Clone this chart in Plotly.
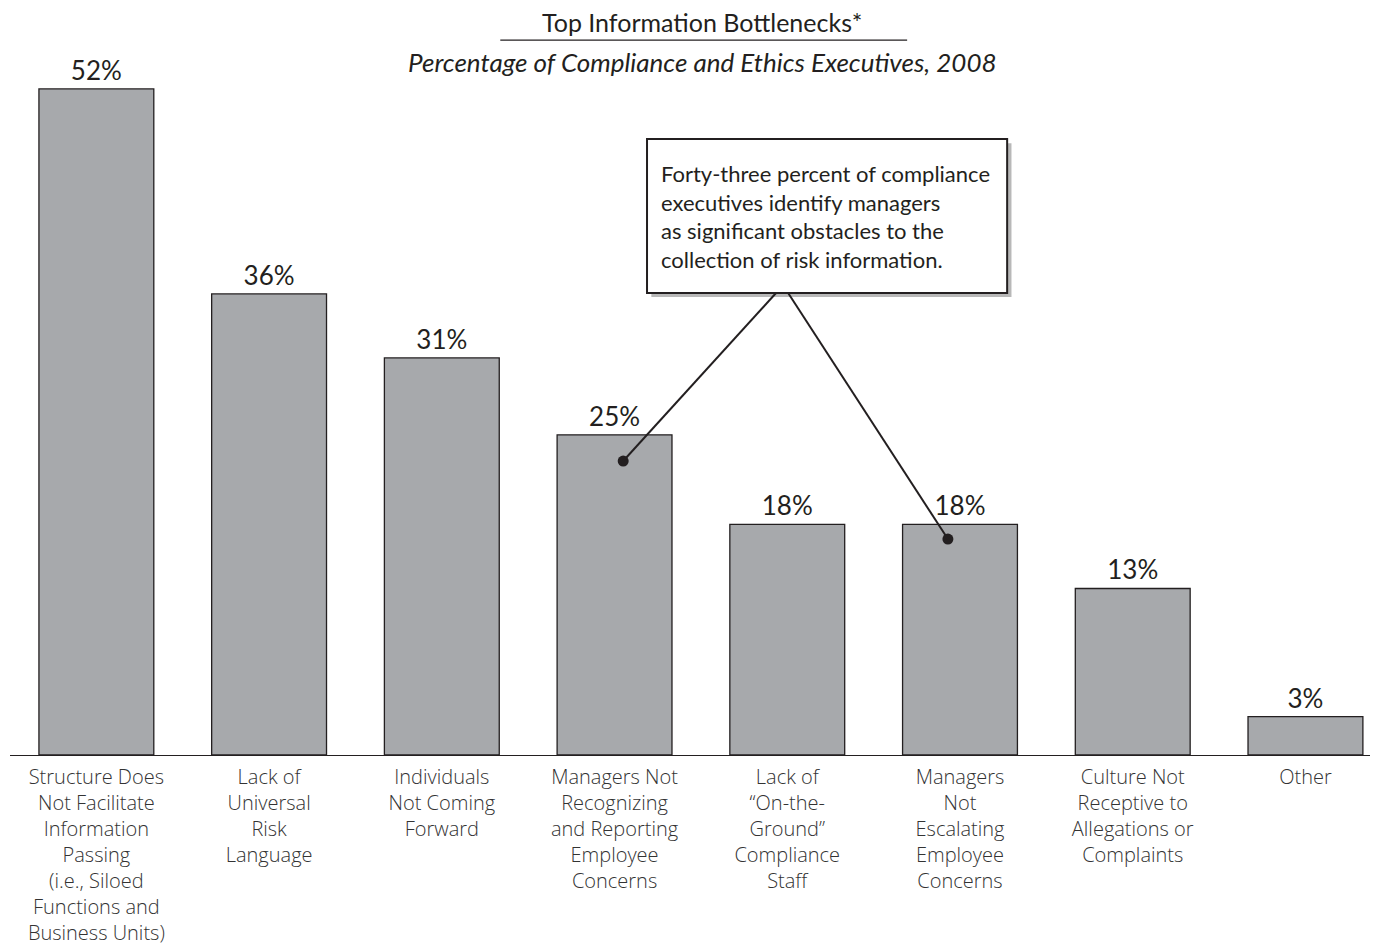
import plotly.graph_objects as go

categories = [
    "Structure Does<br>Not Facilitate<br>Information<br>Passing<br>(i.e., Siloed<br>Functions and<br>Business Units)",
    "Lack of<br>Universal<br>Risk<br>Language",
    "Individuals<br>Not Coming<br>Forward",
    "Managers Not<br>Recognizing<br>and Reporting<br>Employee<br>Concerns",
    "Lack of<br>\u201cOn-the-<br>Ground\u201d<br>Compliance<br>Staff",
    "Managers<br>Not<br>Escalating<br>Employee<br>Concerns",
    "Culture Not<br>Receptive to<br>Allegations or<br>Complaints",
    "Other",
]
values = [52, 36, 31, 25, 18, 18, 13, 3]
value_labels = [f"{v}%" for v in values]

title_text = "Top Information Bottlenecks*"
subtitle_text = "Percentage of Compliance and Ethics Executives, 2008"
callout_text = ("Forty-three percent of compliance<br>executives identify managers<br>"
                "as significant obstacles to the<br>collection of risk information.")

# callout geometry (data coordinates)
BOX = dict(x0=3.188, x1=5.273, y0=36.07, y1=48.09)
SHADOW_DX, SHADOW_DY = 0.025, 0.32
LEADERS = [((3.935, 36.07), (3.05, 22.95)), ((4.005, 36.07), (4.93, 16.86))]

INK = "#231f20"
BAR = "#a7a9ac"
FONT = "Lato"

x_idx = list(range(len(categories)))

fig = go.Figure()
fig.add_trace(go.Bar(
    x=x_idx, y=values, text=value_labels, textposition="outside",
    textfont=dict(family=FONT, size=26, color=INK),
    marker=dict(color=BAR, line=dict(color=INK, width=1.3)),
    width=0.665, cliponaxis=False, hoverinfo="skip",
))

shapes = []
# shadow
shapes.append(dict(type="rect", xref="x", yref="y",
                   x0=BOX["x0"] + SHADOW_DX, x1=BOX["x1"] + SHADOW_DX,
                   y0=BOX["y0"] - SHADOW_DY, y1=BOX["y1"] - SHADOW_DY,
                   fillcolor="#b8b8b8", line=dict(width=0), layer="above"))
for (a, b) in LEADERS:
    shapes.append(dict(type="line", xref="x", yref="y", x0=a[0], y0=a[1], x1=b[0], y1=b[1],
                       line=dict(color=INK, width=2), layer="above"))
shapes.append(dict(type="rect", xref="x", yref="y", **BOX,
                   fillcolor="white", line=dict(color=INK, width=2), layer="above"))
# title underline
shapes.append(dict(type="line", xref="paper", yref="paper", x0=0.3584, x1=0.6558,
                   y0=0.957, y1=0.957, line=dict(color=INK, width=1.2)))

fig.add_trace(go.Scatter(
    x=[b[0] for _, b in LEADERS], y=[b[1] for _, b in LEADERS], mode="markers",
    marker=dict(color=INK, size=11), hoverinfo="skip", cliponaxis=False,
))

annotations = [
    dict(text=title_text, xref="paper", yref="paper", x=0.506, y=0.981,
         xanchor="center", yanchor="middle", borderpad=0,
         showarrow=False, font=dict(family=FONT, size=25, color=INK)),
    dict(text=f"<i>{subtitle_text}</i>", xref="paper", yref="paper", x=0.506, y=0.928,
         xanchor="center", yanchor="middle",
         showarrow=False, font=dict(family=FONT, size=26, color=INK)),
    dict(text=callout_text, xref="x", yref="y", x=BOX["x0"] + 0.07, y=(BOX["y0"] + BOX["y1"]) / 2,
         xanchor="left", yanchor="middle", align="left", showarrow=False,
         font=dict(family=FONT, size=22, color=INK)),
]

fig.update_layout(
    width=1370, height=942,
    margin=dict(l=2, r=0, t=0, b=195, autoexpand=False),
    plot_bgcolor="white", paper_bgcolor="white",
    showlegend=False, shapes=shapes, annotations=annotations,
    xaxis=dict(range=[-0.5, 7.42], tickmode="array", tickvals=x_idx, ticktext=categories,
               showline=True, linecolor=INK, linewidth=1.3, ticks="", showgrid=False,
               zeroline=False, tickangle=0, automargin=False, ticklabelstandoff=4,
               tickfont=dict(family="Open Sans", size=20, color="#333333", weight=300),
               fixedrange=True),
    yaxis=dict(range=[0, 58.32], visible=False, showgrid=False, zeroline=False,
               fixedrange=True, automargin=False),
)

fig.write_html("out.html")
